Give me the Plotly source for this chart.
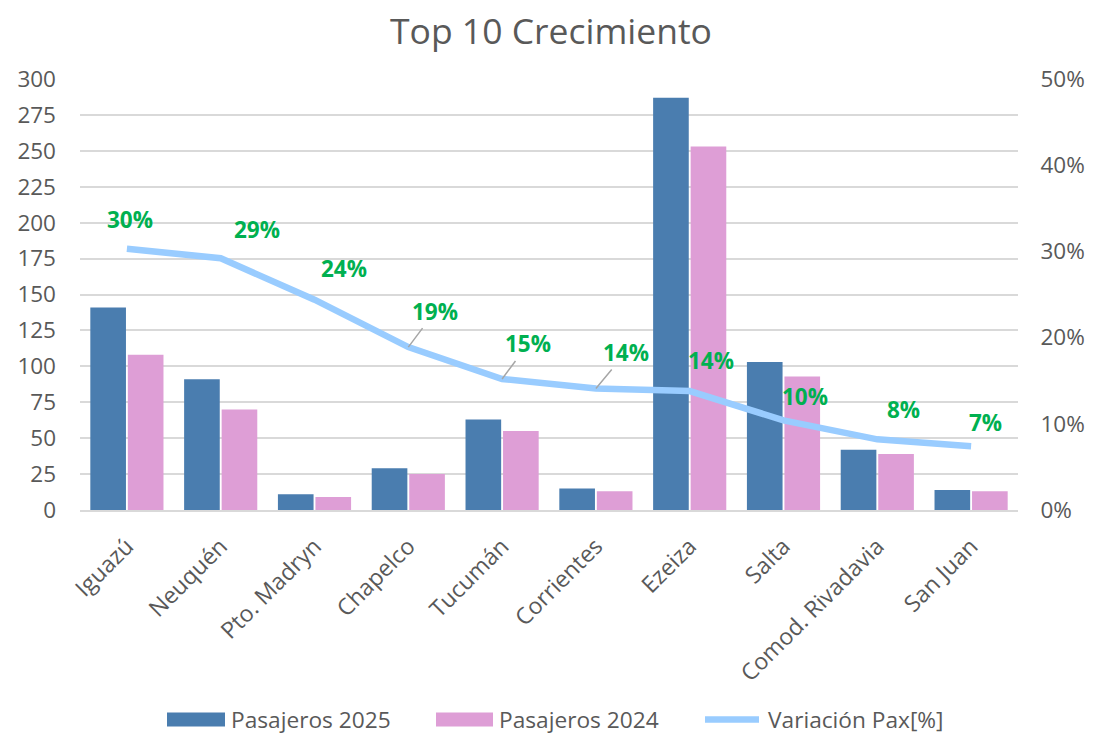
import plotly.graph_objects as go

categorias = ["Iguazú", "Neuquén", "Pto. Madryn", "Chapelco", "Tucumán",
              "Corrientes", "Ezeiza", "Salta", "Comod. Rivadavia", "San Juan"]
pax_2025 = [141, 91, 11, 29, 63, 15, 287, 103, 42, 14]
pax_2024 = [108, 70, 9, 25, 55, 13, 253, 93, 39, 13]
variacion = [0.303, 0.292, 0.244, 0.189, 0.152, 0.141, 0.138, 0.104, 0.082, 0.074]
series_names = ["Pasajeros 2025", "Pasajeros 2024", "Variación Pax[%]"]

# label offsets (pixels) and whether a leader line is drawn
label_dx = [3, 36, 29, 27, 26, 30, 21, 21, 26, 14]
label_dy = [-29, -29, -31, -36, -35, -36, -31, -24, -30, -24]
leader = [False, False, False, True, True, True, False, False, False, False]

FONT = "Open Sans"
GRAY = "#595959"
C25, C24, CLINE = "#4A7DAF", "#DE9ED6", "#99CCFF"

# page body margin is removed (post_script), so the figure fills the window
W, H = 1102, 739
L, R, T, B = 80, 84, 79, 229
PW, PH = W - L - R, H - T - B

fig = go.Figure()
fig.add_trace(go.Bar(x=categorias, y=pax_2025, name=series_names[0], showlegend=False,
                     marker=dict(color=C25, line=dict(width=0))))
fig.add_trace(go.Bar(x=categorias, y=pax_2024, name=series_names[1], showlegend=False,
                     marker=dict(color=C24, line=dict(width=0))))
fig.add_trace(go.Scatter(x=categorias, y=variacion, name=series_names[2], yaxis="y2",
                         mode="lines", showlegend=False,
                         line=dict(color=CLINE, width=6.5)))

for c, v, dx, dy, ld in zip(categorias, variacion, label_dx, label_dy, leader):
    txt = f"{round(v*100):.0f}%"
    if ld:
        fig.add_annotation(x=c, y=v, xref="x", yref="y2", text=f"<b>{txt}</b>",
                           showarrow=True, arrowhead=0, arrowwidth=1.5, arrowcolor="#A6A6A6",
                           ax=dx, ay=dy, standoff=0,
                           font=dict(family=FONT, size=22.5, color="#00B050"))
    else:
        fig.add_annotation(x=c, y=v, xref="x", yref="y2", text=f"<b>{txt}</b>",
                           showarrow=False, xshift=dx, yshift=-dy,
                           font=dict(family=FONT, size=22.5, color="#00B050"))

# custom legend (wide swatches like the original); positions given in window pixels
def px2x(px):
    return (px - L) / PW

def py2y(py):
    return (T + PH - py) / PH

leg_y = 719.5
swatches = [(167, 225, C25, "rect"), (436, 493, C24, "rect"), (702, 762, CLINE, "line")]
for (x0, x1, col, kind), name in zip(swatches, series_names):
    if kind == "rect":
        fig.add_shape(type="rect", xref="paper", yref="paper",
                      x0=px2x(x0), x1=px2x(x1), y0=py2y(leg_y + 7), y1=py2y(leg_y - 7),
                      fillcolor=col, line=dict(width=0))
    else:
        fig.add_shape(type="line", xref="paper", yref="paper",
                      x0=px2x(x0 + 3), x1=px2x(x1 - 3), y0=py2y(leg_y), y1=py2y(leg_y),
                      line=dict(color=col, width=6.5))
    fig.add_annotation(xref="paper", yref="paper", x=px2x(x1 + 4), y=py2y(leg_y),
                       xanchor="left", yanchor="middle", showarrow=False, text=name,
                       font=dict(family=FONT, size=22.7, color=GRAY))

fig.update_layout(
    width=W, height=H,
    margin=dict(l=L, r=R, t=T, b=B),
    paper_bgcolor="white", plot_bgcolor="white",
    title=dict(text="Top 10 Crecimiento", x=0.5, xanchor="center",
               y=1 - 31.5 / H, yanchor="middle",
               font=dict(family=FONT, size=35.5, color=GRAY)),
    font=dict(family=FONT, color=GRAY),
    showlegend=False,
    barmode="group", bargap=0.2, bargroupgap=0.05,
    xaxis=dict(tickangle=-45, tickfont=dict(size=23, color=GRAY), automargin=False,
               showline=True, linecolor="#D9D9D9", linewidth=1.5, showgrid=False,
               ticks="", ticklabelstandoff=12),
    yaxis=dict(range=[0, 300], dtick=25, tickfont=dict(size=22.5, color=GRAY), automargin=False,
               showgrid=True, gridcolor="#D9D9D9", gridwidth=1.5, zeroline=False,
               ticks="", ticklabelstandoff=23),
    yaxis2=dict(range=[0, 0.5], dtick=0.1, tickformat=".0%", overlaying="y", side="right",
                tickfont=dict(size=22.5, color=GRAY), showgrid=False, zeroline=False,
                automargin=False, ticks="outside", ticklen=17, tickcolor="rgba(0,0,0,0)"),
)

fig.write_html("out.html", config={"displayModeBar": False},
               post_script="document.body.style.margin='0';")
